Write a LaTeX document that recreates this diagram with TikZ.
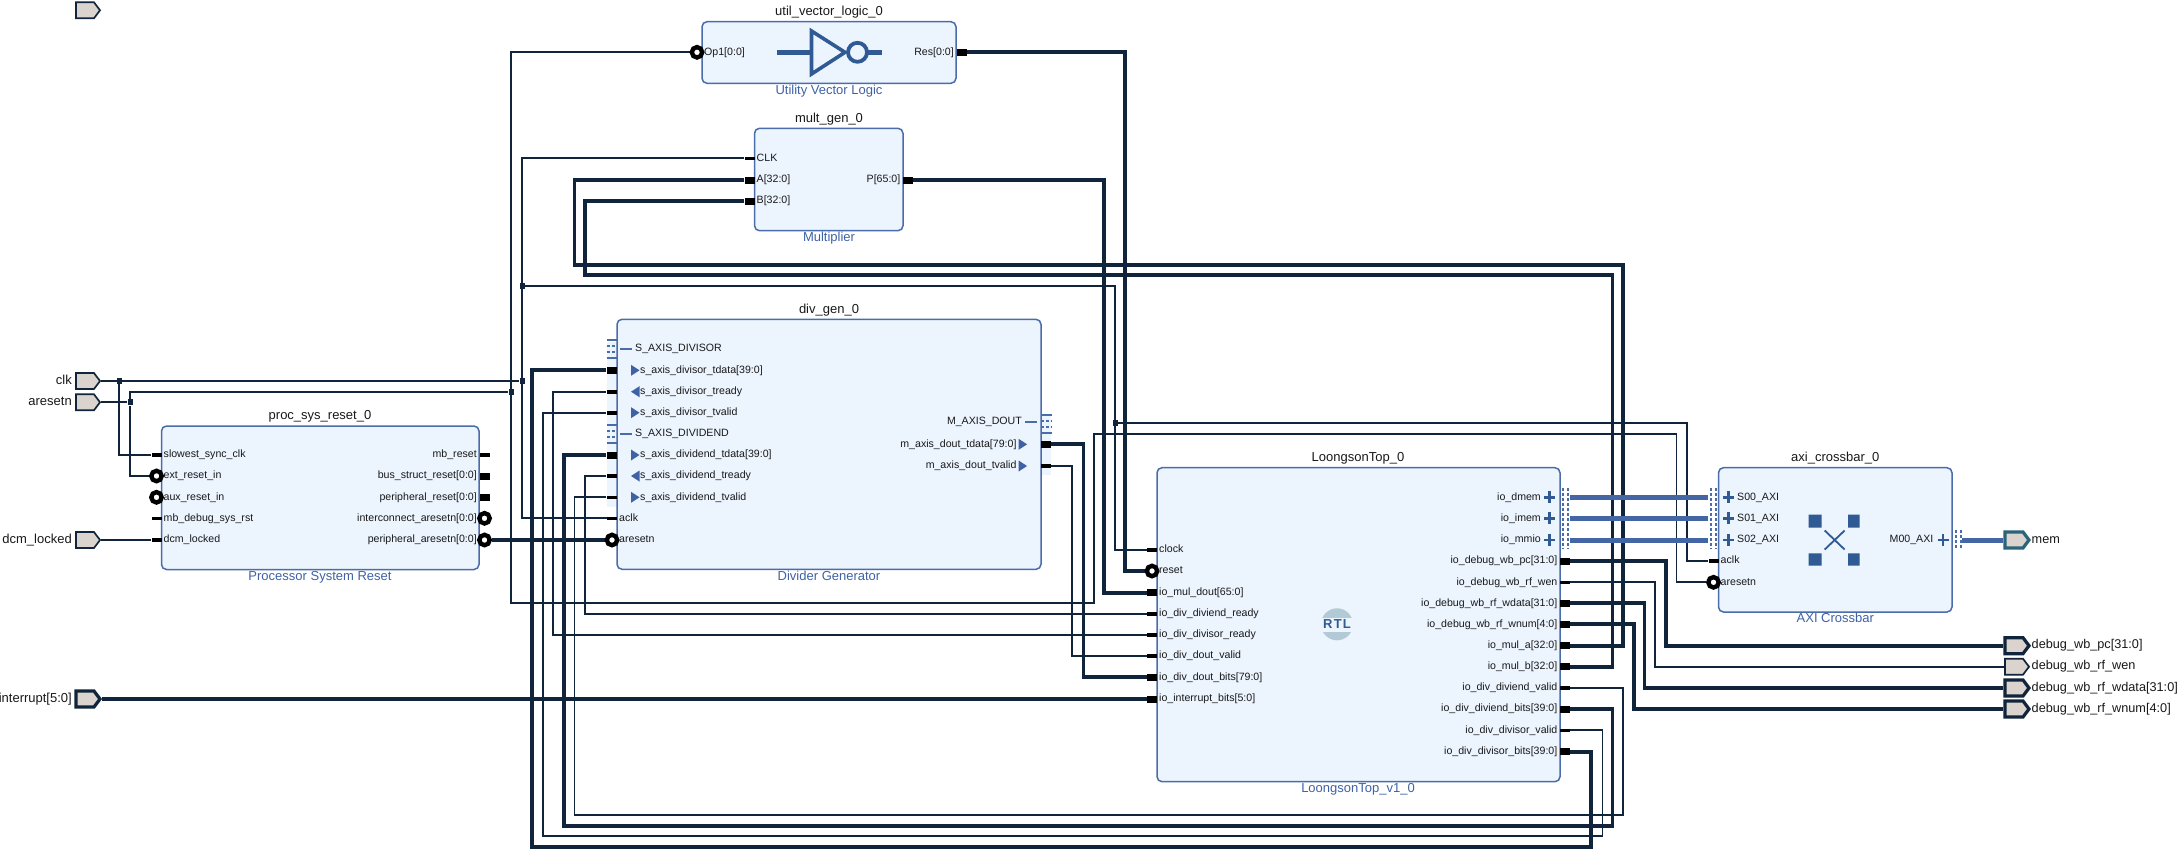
\documentclass[tikz,border=0pt]{standalone}
\usepackage{fontspec}
\setmainfont{Liberation Sans}
\usetikzlibrary{shapes.symbols}
\pgfdeclarelayer{wires}
\pgfsetlayers{wires,main}
\definecolor{navy}{HTML}{10253B}
\definecolor{bfill}{HTML}{ECF4FE}
\definecolor{bline}{HTML}{4A6CA8}
\definecolor{lblue}{HTML}{3F62A5}
\definecolor{axi}{HTML}{4466A5}
\definecolor{icon}{HTML}{2F5A94}
\definecolor{ext}{HTML}{DAD3CE}
\definecolor{teal}{HTML}{2A6478}
\definecolor{rtlc}{HTML}{B2CAD6}
\tikzset{
 x=1pt,y=-1pt,
 block/.style={draw=bline,fill=bfill,line width=1.5pt,rounded corners=5pt,inner sep=0pt,outer sep=0pt,anchor=north west},
 plabel/.style={font=\fontsize{10.6}{12}\selectfont,inner sep=0pt,text height=8pt,text depth=2.5pt,text=black!90},
 title/.style={font=\fontsize{13}{15}\selectfont,inner sep=0pt,text height=9.5pt,text depth=3pt,text=black!90},
 sub/.style={font=\fontsize{13}{15}\selectfont,inner sep=0pt,text height=9.5pt,text depth=3pt,text=lblue,yshift=-0.8pt},
 pinw/.style={rectangle,fill=black,minimum width=10pt,minimum height=3.6pt,inner sep=0pt},
 pinb/.style={rectangle,fill=black,minimum width=10pt,minimum height=7pt,inner sep=0pt},
 pinr/.style={circle,draw=black,fill=white,line width=4.4pt,minimum size=10.4pt,inner sep=0pt},
 nopin/.style={inner sep=0pt,minimum size=0pt},
 wt/.style={draw=navy,line width=1.9pt},
 wb/.style={draw=navy,line width=3.7pt},
 wa/.style={draw=axi,line width=5pt},
 junc/.style={rectangle,fill=navy,minimum width=5pt,minimum height=6pt,inner sep=0pt},
 extp/.style={shape=signal,signal to=east,signal from=nowhere,signal pointer angle=106,fill=ext,draw=navy,line width=1.7pt,minimum width=24pt,minimum height=16pt,inner sep=0pt},
 extb/.style={extp,line width=3.2pt},
 exto/.style={title,anchor=west,font=\fontsize{12.7}{15}\selectfont},
 dots/.style={draw=bline,line width=2.2pt,dash pattern=on 2.6pt off 2.4pt},
 barh/.style={draw=bline,line width=1.7pt},
}
\newcommand\PL[5][pinw]{\node[#1] (#2) at (#3-5,#4) {};\node[plabel,anchor=west] (#2t) at (#3+2,#4) {#5};}
\newcommand\PR[5][pinw]{\node[#1] (#2) at (#3+5,#4) {};\node[plabel,anchor=east] (#2t) at (#3-2.5,#4) {#5};}
\newcommand\tri[3]{\fill[lblue] (#1,#2-5.5) -- (#1+#3,#2) -- (#1,#2+5.5) -- cycle;}
\newcommand\dashic[2]{\draw[bline,line width=2pt] (#1,#2) -- (#1+12,#2);}
\newcommand\plusic[2]{\draw[icon,line width=2.6pt] (#1-5.5,#2) -- (#1+5.5,#2) (#1,#2-6) -- (#1,#2+6);}
\newcommand\sbar[2]{\draw[barh] (#1,#2) -- (#1+10.5,#2) (#1,#2+18) -- (#1+10.5,#2+18);
 \draw[barh,dash pattern=on 3pt off 2pt] (#1,#2+6) -- (#1+10.5,#2+6) (#1,#2+12) -- (#1+10.5,#2+12);}
\newcommand\DL[6][pinw]{\node[#1] (#2) at (611.5,#3) {};\node[plabel,anchor=west] (#2t) at (640,#3) {#4};\tri{#5}{#3}{#6}}
\begin{document}
\begin{tikzpicture}
\useasboundingbox (0,0) rectangle (2177,849);
\begin{pgfonlayer}{wires}
\fill[white] (0,0) rectangle (2177,849);
\end{pgfonlayer}

% external ports
\node[extp] (unnamed) at (85,10.3) {};
\node[extp] (clk) at (85,381) {};
\node[extp] (aresetn) at (85,402.3) {};
\node[extp] (dcm) at (85,540) {};
\node[extb] (irq) at (85,699) {};
\node[title,anchor=east] (clkt) at (72,381) {clk};
\node[title,anchor=east] (aresetnt) at (72,402.3) {aresetn};
\node[title,anchor=east] (dcmt) at (72,540) {dcm\_locked};
\node[title,anchor=east] (irqt) at (72,699) {interrupt[5:0]};
\node[extb,draw=teal] (mem) at (2014,540) {};
\node[extb] (opc) at (2014,645.7) {};
\node[extp] (owen) at (2014,666.7) {};
\node[extb] (owd) at (2014,688) {};
\node[extb] (own) at (2014,709) {};
\node[exto] (memt) at (2031.5,540) {mem};
\node[exto] (opct) at (2031.5,645.7) {debug\_wb\_pc[31:0]};
\node[exto] (owent) at (2031.5,666.7) {debug\_wb\_rf\_wen};
\node[exto] (owdt) at (2031.5,688) {debug\_wb\_rf\_wdata[31:0]};
\node[exto] (ownt) at (2031.5,709) {debug\_wb\_rf\_wnum[4:0]};

% util_vector_logic
\node[block,minimum width=254pt,minimum height=61.6pt] (util) at (702,21.7) {};
\node[title] (utilt) at (829,12.3) {util\_vector\_logic\_0};
\node[sub] (utils) at (829,90) {Utility Vector Logic};
\PL[pinr]{op}{702}{52.3}{Op1[0:0]}
\PR[pinb]{res}{956.5}{52.3}{Res[0:0]}
\draw[icon,line width=4.5pt] (777,52.3) -- (812,52.3) (867,52.3) -- (882,52.3);
\draw[icon,line width=3.6pt,fill=bfill] (811.5,31) -- (845,52.3) -- (811.5,74) -- cycle;
\draw[icon,line width=3.8pt,fill=bfill] (857.5,52.3) circle (9.5);

% multiplier
\node[block,minimum width=148.5pt,minimum height=102.4pt] (mult) at (754.5,128.3) {};
\node[title] (multt) at (829,119.3) {mult\_gen\_0};
\node[sub] (mults) at (829,237.3) {Multiplier};
\PL{mclk}{754.5}{158.3}{CLK}
\PL[pinb]{ma}{754.5}{180}{A[32:0]}
\PL[pinb]{mb}{754.5}{201}{B[32:0]}
\PR[pinb]{mp}{903}{180}{P[65:0]}

% proc_sys_reset
\node[block,minimum width=317.5pt,minimum height=143.5pt] (proc) at (161.5,426) {};
\node[title] (proct) at (320,416.5) {proc\_sys\_reset\_0};
\node[sub] (procs) at (320,576.7) {Processor System Reset};
\PL{slow}{161.5}{455}{slowest\_sync\_clk}
\PL[pinr]{extr}{161.5}{476}{ext\_reset\_in}
\fill[black] (151,495.5) rectangle (157,499.1);
\PL[pinr]{auxr}{161.5}{497.3}{aux\_reset\_in}
\PL{mbd}{161.5}{518.3}{mb\_debug\_sys\_rst}
\PL{dcmp}{161.5}{540}{dcm\_locked}
\PR{mbr}{479.5}{455}{mb\_reset}
\PR[pinb]{bsr}{479.5}{476}{bus\_struct\_reset[0:0]}
\PR[pinb]{prr}{479.5}{497.3}{peripheral\_reset[0:0]}
\PR[pinr]{icr}{479.5}{518.3}{interconnect\_aresetn[0:0]}
\PR[pinr]{per}{479.5}{540}{peripheral\_aresetn[0:0]}

% divider
\fill[bfill] (606.5,342) rectangle (617,507);
\fill[bfill] (1041,415) rectangle (1051,475);
\node[block,minimum width=424pt,minimum height=250pt] (divg) at (617,319.3) {};
\node[title] (divt) at (829,310.7) {div\_gen\_0};
\node[sub] (divs) at (829,576.7) {Divider Generator};
\sbar{606.5}{340}
\sbar{606.5}{425}
\sbar{1041}{415}
\dashic{620}{349}
\dashic{620}{434}
\dashic{1025}{421.7}
\node[plabel,anchor=west] (sdvs) at (635,349) {S\_AXIS\_DIVISOR};
\node[plabel,anchor=west] (sdvd) at (635,434) {S\_AXIS\_DIVIDEND};
\node[plabel,anchor=east] (mdo) at (1022,421.7) {M\_AXIS\_DOUT};
\DL[pinb]{dtd}{370.3}{s\_axis\_divisor\_tdata[39:0]}{631}{8.5}
\DL{dtr}{391.7}{s\_axis\_divisor\_tready}{639.5}{-8.5}
\DL{dtv}{412.7}{s\_axis\_divisor\_tvalid}{631}{8.5}
\DL[pinb]{ddd}{455}{s\_axis\_dividend\_tdata[39:0]}{631}{8.5}
\DL{ddr}{476}{s\_axis\_dividend\_tready}{639.5}{-8.5}
\DL{ddv}{497.3}{s\_axis\_dividend\_tvalid}{631}{8.5}
\PL{daclk}{617}{518.3}{aclk}
\PL[pinr]{dares}{617}{540}{aresetn}
\node[pinb] (dout) at (1046,444.3) {};
\node[pinw] (dov) at (1046,466) {};
\node[plabel,anchor=east] (doutt) at (1016.7,444.3) {m\_axis\_dout\_tdata[79:0]};
\node[plabel,anchor=east] (dovt) at (1016.7,466) {m\_axis\_dout\_tvalid};
\tri{1018.6}{444.3}{8.5}
\tri{1018.6}{466}{8.5}

% LoongsonTop
\node[block,minimum width=403pt,minimum height=314pt] (top) at (1157,467.7) {};
\node[title] (topt) at (1358,458.3) {LoongsonTop\_0};
\node[sub] (tops) at (1358,788.3) {LoongsonTop\_v1\_0};
\PL{lclock}{1157}{550}{clock}
\PL[pinr]{lreset}{1157}{571}{reset}
\PL[pinb]{lmul}{1157}{592.7}{io\_mul\_dout[65:0]}
\PL{ldr}{1157}{614}{io\_div\_diviend\_ready}
\PL{lvr}{1157}{635}{io\_div\_divisor\_ready}
\PL{ldv}{1157}{656}{io\_div\_dout\_valid}
\PL[pinb]{ldb}{1157}{677.3}{io\_div\_dout\_bits[79:0]}
\PL[pinb]{lirq}{1157}{699}{io\_interrupt\_bits[5:0]}
\node[plabel,anchor=east] (rdmt) at (1541,497.3) {io\_dmem};
\node[plabel,anchor=east] (rimt) at (1541,518.3) {io\_imem};
\node[plabel,anchor=east] (rmmt) at (1541,540) {io\_mmio};
\plusic{1549.5}{497.3}\plusic{1549.5}{518.3}\plusic{1549.5}{540}
\draw[dots] (1563,488) -- (1563,549) (1568,488) -- (1568,549);
\node[nopin] (rdm) at (1570,497.3) {};
\node[nopin] (rim) at (1570,518.3) {};
\node[nopin] (rmm) at (1570,540) {};
\PR[pinb]{rpc}{1560}{561}{io\_debug\_wb\_pc[31:0]}
\PR{rwen}{1560}{582.3}{io\_debug\_wb\_rf\_wen}
\PR[pinb]{rwd}{1560}{603.3}{io\_debug\_wb\_rf\_wdata[31:0]}
\PR[pinb]{rwn}{1560}{624.3}{io\_debug\_wb\_rf\_wnum[4:0]}
\PR[pinb]{rma}{1560}{645.7}{io\_mul\_a[32:0]}
\PR[pinb]{rmb}{1560}{666.7}{io\_mul\_b[32:0]}
\PR{rdv}{1560}{688}{io\_div\_diviend\_valid}
\PR[pinb]{rdb}{1560}{709}{io\_div\_diviend\_bits[39:0]}
\PR{rvv}{1560}{730.3}{io\_div\_divisor\_valid}
\PR[pinb]{rvb}{1560}{751.7}{io\_div\_divisor\_bits[39:0]}
% RTL badge
\fill[rtlc] (1337,624.3) circle (16);
\fill[bfill] (1319,617.5) rectangle (1355,631.5);
\node[inner sep=0pt,text=icon,font=\fontsize{13}{15}\bfseries\addfontfeature{LetterSpace=10}] (rtl) at (1337,624.3) {RTL};

% crossbar
\node[block,minimum width=233.5pt,minimum height=144.3pt] (xbar) at (1718.5,467.7) {};
\node[title] (xbart) at (1835.3,458.3) {axi\_crossbar\_0};
\node[sub] (xbars) at (1835.3,618.6) {AXI Crossbar};
\draw[dots] (1711,488) -- (1711,549) (1716,488) -- (1716,549);
\node[nopin] (s0) at (1708,497.3) {};
\node[nopin] (s1) at (1708,518.3) {};
\node[nopin] (s2) at (1708,540) {};
\plusic{1728.5}{497.3}\plusic{1728.5}{518.3}\plusic{1728.5}{540}
\node[plabel,anchor=west] (s0t) at (1737,497.3) {S00\_AXI};
\node[plabel,anchor=west] (s1t) at (1737,518.3) {S01\_AXI};
\node[plabel,anchor=west] (s2t) at (1737,540) {S02\_AXI};
\PL{xaclk}{1718.5}{561}{aclk}
\PL[pinr]{xares}{1718.5}{582.3}{aresetn}
\node[plabel,anchor=east] (m0t) at (1933.5,540) {M00\_AXI};
\plusic{1943}{540}
\draw[dots] (1956,530) -- (1956,549) (1961,530) -- (1961,549);
\node[nopin] (m0) at (1962,540) {};
\fill[icon] (1808.5,514.5) rectangle (1821.5,527.7) (1848,514.5) rectangle (1859.5,527.7)
 (1808.5,553.3) rectangle (1821.5,565.7) (1848,553.3) rectangle (1859.5,565.7);
\draw[icon,line width=1.8pt] (1824.7,530.5) -- (1844.6,549.5) (1844.6,530.5) -- (1824.7,549.5);

% junctions
\node[junc] (j1) at (119,381) {};
\node[junc] (jr) at (130,402.3) {};
\node[junc] (jr2) at (511,391.7) {};
\node[junc] (jc) at (522,381) {};
\node[junc] (jc2) at (522,285.7) {};
\node[junc] (j3) at (1115,422.7) {};

% connectors
\begin{pgfonlayer}{wires}
\draw[wt] (clk.east) -- (jc);
\draw[wt] (j1) |- (slow);
\draw[wt] (mclk) -| (jc) |- (daclk);
\draw[wt] (jc2) -| (j3) |- (lclock);
\draw[wt] (j3) -- (1687,422.7) |- (xaclk);
\draw[wt] (aresetn.east) -- (jr);
\draw[wt] (jr) |- (extr);
\draw[wt] (jr) |- (jr2);
\draw[wt] (op) -| (jr2) -- (511,603.3) -- (1094,603.3) -- (1094,434) -- (1676.5,434) |- (xares);
\draw[wt] (dcm.east) -- (dcmp);
\draw[wb] (per) -- (dares);
\draw[wb] (irq.east) -- (lirq);
\draw[wb] (res) -- (1125,52.3) |- (lreset);
\draw[wb] (mp) -- (1104,180) |- (lmul);
\draw[wb] (ma) -- (574.5,180) -- (574.5,265) -- (1623.3,265) |- (rma);
\draw[wb] (mb) -- (585,201) -- (585,275) -- (1612.6,275) |- (rmb);
\draw[wb] (dtd) -- (532,370.3) -- (532,847.3) -- (1591,847.3) |- (rvb);
\draw[wt] (dtr) -- (553,391.7) |- (lvr);
\draw[wt] (dtv) -- (542.6,412.7) -- (542.6,836) -- (1602.5,836) |- (rvv);
\draw[wb] (ddd) -- (564,455) -- (564,825.7) -- (1612.6,825.7) |- (rdb);
\draw[wt] (ddr) -- (585,476) |- (ldr);
\draw[wt] (ddv) -- (574.5,497.3) -- (574.5,815) -- (1623.3,815) |- (rdv);
\draw[wb] (dout) -- (1083.4,444.3) |- (ldb);
\draw[wt] (dov) -- (1072,466) |- (ldv);
\draw[wa] (rdm) -- (s0);
\draw[wa] (rim) -- (s1);
\draw[wa] (rmm) -- (s2);
\draw[wa] (m0) -- (mem.west);
\draw[wb] (rpc) -- (1666,561) |- (opc.west);
\draw[wt] (rwen) -- (1655,582.3) |- (owen.west);
\draw[wb] (rwd) -- (1644.6,603.3) |- (owd.west);
\draw[wb] (rwn) -- (1634,624.3) |- (own.west);
\end{pgfonlayer}
\end{tikzpicture}
\end{document}
